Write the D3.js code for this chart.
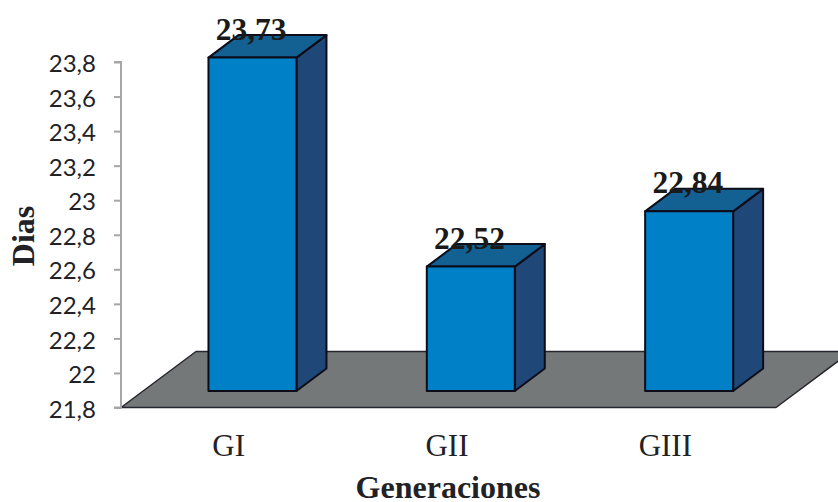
<!DOCTYPE html>
<html><head><meta charset="utf-8">
<script src="https://cdnjs.cloudflare.com/ajax/libs/d3/7.8.5/d3.min.js"></script>
<style>html,body{margin:0;padding:0;background:#fff}svg{display:block}</style>
</head><body><svg id="c" width="838" height="502"></svg>
<script>
const categories = ["GI","GII","GIII"];
const values = [23.73,22.52,22.84];
const valueLabels = ["23,73","22,52","22,84"];
const yTicks = [21.8,22,22.2,22.4,22.6,22.8,23,23.2,23.4,23.6,23.8];
const yTickLabels = ["21,8","22","22,2","22,4","22,6","22,8","23","23,2","23,4","23,6","23,8"];

const svg = d3.select("#c");
const x = d3.scaleBand().domain(categories).range([121,776]).paddingInner(0.597).paddingOuter(0.2985);
const y = d3.scaleLinear().domain([21.8,23.8]).range([407.5,62]);
const floorD = {dx:75, dy:-56};
const barD = {dx:30, dy:-22.5};
const front = {dx:22.3, dy:-16.5};
const serif = "'Liberation Serif',serif";
const ink = "#0d0d1a";

// floor
const x0 = x.range()[0], x1 = x.range()[1], yb = y(21.8);
svg.append("path")
  .attr("d", `M${x0},${yb}L${x1},${yb}L${x1+floorD.dx},${yb+floorD.dy}L${x0+floorD.dx},${yb+floorD.dy}Z`)
  .attr("fill","#757878").attr("stroke","#26262e").attr("stroke-width",1.5).attr("stroke-linejoin","round");

// y axis
const axis = d3.axisLeft(y).tickValues(yTicks).tickSize(7).tickPadding(18)
  .tickFormat((d,i)=>yTickLabels[i]);
const ga = svg.append("g").attr("transform",`translate(${x0},0)`).call(axis);
ga.selectAll("path,line").attr("stroke","#a6a6a6").attr("stroke-width",2);
ga.select("path").attr("d",`M-7,${y(23.8)}H0V${y(21.8)}H-7`).attr("fill","none");
ga.selectAll("text").attr("font-family","Lato,sans-serif").attr("font-size",24).attr("fill","#222226").attr("y",2);

// bars
const bars = svg.selectAll("g.bar").data(categories).join("g").attr("class","bar")
  .attr("transform",c=>`translate(${x(c)+front.dx},${front.dy})`);
const w = x.bandwidth();
bars.each(function(c,i){
  const g = d3.select(this), t = y(values[i]), b = y(21.8);
  const common = s => s.attr("stroke",ink).attr("stroke-width",2).attr("stroke-linejoin","round");
  common(g.append("path").attr("fill","#1f4778")
    .attr("d",`M${w},${t}L${w+barD.dx},${t+barD.dy}V${b+barD.dy}L${w},${b}Z`));
  common(g.append("path").attr("fill","#136092")
    .attr("d",`M0,${t}L${barD.dx},${t+barD.dy}H${w+barD.dx}L${w},${t}Z`));
  common(g.append("rect").attr("fill","#0080c6")
    .attr("x",0).attr("y",t).attr("width",w).attr("height",b-t));
  g.append("text").attr("x",w/2-1.3).attr("y",t-18).attr("text-anchor","middle")
    .attr("font-family",serif).attr("font-weight","bold").attr("font-size",31.5).attr("fill","#1a1a1a")
    .text(valueLabels[i]);
});

// category labels
svg.selectAll("text.cat").data(categories).join("text").attr("class","cat")
  .attr("x",c=>x(c)+w/2-1.5).attr("y",456).attr("text-anchor","middle")
  .attr("font-family",serif).attr("font-size",31).attr("fill","#222226").text(c=>c);

// axis titles
svg.append("text").attr("x",448).attr("y",498).attr("text-anchor","middle")
  .attr("font-family",serif).attr("font-weight","bold").attr("font-size",32).attr("fill","#222226").text("Generaciones");
svg.append("text").attr("transform","translate(34,236) rotate(-90)").attr("text-anchor","middle")
  .attr("font-family",serif).attr("font-weight","bold").attr("font-size",32).attr("fill","#222226").text("Dias");
</script></body></html>
